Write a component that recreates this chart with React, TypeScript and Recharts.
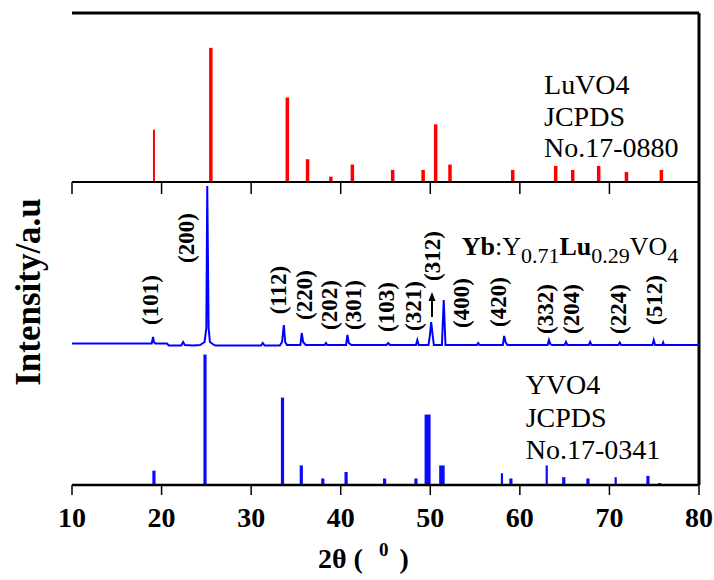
import React from 'react';
import { ComposedChart, XAxis, YAxis, Line, Scatter, ReferenceLine } from 'recharts';

const FONT = "'Liberation Serif', 'Times New Roman', serif";

// x axis ticks (2θ, degrees)
const xTicks = [10, 20, 30, 40, 50, 60, 70, 80];

// LuVO4 JCPDS No.17-0880 stick pattern (relative intensity)
const luPos = [19.15, 25.5, 34.04, 36.3, 38.9, 41.3, 45.8, 49.2, 50.6, 52.2, 59.2, 64.0, 65.9, 68.8, 71.9, 75.8];
const luInt = [39, 100, 63, 17, 4, 13, 9, 9, 43, 13, 9, 12, 9, 12, 7.5, 9];

// YVO4 JCPDS No.17-0341 stick pattern (relative intensity)
const yvPos = [19.15, 24.85, 33.5, 35.6, 38.0, 40.6, 44.9, 48.4, 49.7, 51.3, 58.0, 59.0, 63.0, 64.9, 67.6, 70.7, 74.3, 75.6];
const yvInt = [11, 100, 67, 15, 5, 10, 5, 5, 54, 15, 9, 5, 15, 6, 5, 6, 7, 1.5];

// Measured Yb:Y0.71Lu0.29VO4 pattern (a.u.)
const traceX = [10, 18.9, 19.05, 19.15, 19.3, 20.6, 20.8, 22.2, 22.4, 22.6, 23.5, 24.3, 24.8, 25.0, 25.1, 25.25, 25.4, 25.7, 26.0,
  31.1, 31.3, 31.5, 33.2, 33.45, 33.65, 33.8, 34.0, 35.5, 35.65, 35.8, 36.1, 38.2, 38.35, 38.5, 40.6, 40.75, 40.9, 41.2,
  45.1, 45.3, 45.5, 48.4, 48.55, 48.7, 49.8, 49.95, 50.1, 50.25, 50.4, 51.3, 51.5, 51.7, 55.2, 55.35, 55.5,
  58.1, 58.25, 58.4, 58.6, 63.1, 63.25, 63.4, 63.6, 65.0, 65.15, 65.3, 67.7, 67.85, 68.0, 71.0, 71.15, 71.3,
  74.8, 74.95, 75.1, 75.9, 76.0, 76.1, 80];
const traceY = [4.5, 4.5, 11, 6, 4.5, 4.5, 2.5, 2.5, 6, 3, 2.5, 3, 6, 20, 162, 20, 6, 4, 2.5,
  2.5, 5, 2.5, 2.5, 6, 23, 6, 3, 3, 15, 6, 3, 3, 5, 3, 3, 13, 5, 3,
  3, 5, 3, 3, 8, 3, 3, 12, 26, 14, 3, 3, 48, 3, 3, 5, 3,
  3, 12, 6, 3, 3, 8, 4, 3, 3, 6, 3, 3, 6, 3, 3, 5.5, 3,
  3, 8, 3, 3, 5.5, 3, 3];

// Miller index annotations
const millerText = ['(101)', '(200)', '(112)', '(220)', '(202)', '(301)', '(103)', '(321)', '(312)', '(400)', '(420)', '(332)', '(204)', '(224)', '(512)'];
const millerX = [18.78, 22.73, 33.11, 35.94, 38.73, 41.41, 45.06, 48.11, 50.23, 53.51, 57.67, 62.89, 65.71, 70.99, 74.98];
const millerY = [48, 110, 58, 53, 43, 43, 41, 42, 92, 45, 46, 39, 39, 39, 48];

const traceData = traceX.map((x, i) => ({ x, y: traceY[i] }));
const millerData = millerText.map((label, i) => ({ x: millerX[i], y: millerY[i], label }));

const luWidth = (i: number) => (i === 0 ? 2 : 3.5);
const yvWidth = (p: number) => (p === 49.7 ? 6 : p === 51.3 ? 5.5 : p === 58.0 || p === 63.0 || p === 70.7 ? 2.2 : 3.2);

const abs = (top: number): React.CSSProperties => ({ position: 'absolute', left: 0, top });
const BORDER = { stroke: '#000', strokeWidth: 3 };

const MillerShape = (p: any) => (
  <text
    x={p.cx}
    y={p.cy}
    transform={`rotate(-90 ${p.cx} ${p.cy})`}
    textAnchor="middle"
    dominantBaseline="central"
    fontFamily={FONT}
    fontSize={23}
    fontWeight="bold"
    fill="#000"
  >
    {p.payload.label}
  </text>
);

const ArrowShape = (p: any) => (
  <g>
    <line x1={p.cx} y1={p.cy} x2={p.cx} y2={p.cy - 18} stroke="#000" strokeWidth={2} />
    <path d={`M${p.cx - 3.5},${p.cy - 16} L${p.cx + 3.5},${p.cy - 16} L${p.cx},${p.cy - 25} Z`} fill="#000" />
  </g>
);

const SampleShape = (p: any) => (
  <text x={p.cx} y={p.cy} fontFamily={FONT} fontSize={26} fill="#000">
    <tspan fontWeight="bold">Yb</tspan>
    <tspan>:Y</tspan>
    <tspan fontSize={22} dy={8}>0.71</tspan>
    <tspan fontWeight="bold" dy={-8}>Lu</tspan>
    <tspan fontSize={22} dy={8}>0.29</tspan>
    <tspan dy={-8}>VO</tspan>
    <tspan fontSize={22} dy={8}>4</tspan>
  </text>
);

const makeBlock = (lines: string[], gap: number) => (p: any) => (
  <text x={p.cx} y={p.cy} fontFamily={FONT} fontSize={28} fill="#000">
    {lines.map((l, i) => (
      <tspan key={i} x={p.cx} dy={i === 0 ? 0 : gap}>{l}</tspan>
    ))}
  </text>
);

const LuBlock = makeBlock(['LuVO4', 'JCPDS', 'No.17-0880'], 31.5);
const YvBlock = makeBlock(['YVO4', 'JCPDS', 'No.17-0341'], 32.5);

const AxisTitles = (props: any) => {
  const vb = props.viewBox;
  const x = vb.x + 246;
  const y = vb.y + 83;
  const ycx = vb.x - 44;
  const ycy = 292;
  return (
    <g>
      <text x={x} y={y} fontFamily={FONT} fontSize={28} fontWeight="bold" fill="#000">
        <tspan>2θ (</tspan>
        <tspan fontSize={19} dx={16} dy={-12}>0</tspan>
        <tspan dx={11} dy={12}>)</tspan>
      </text>
      <text
        x={ycx}
        y={ycy}
        transform={`rotate(-90 ${ycx} ${ycy})`}
        textAnchor="middle"
        dominantBaseline="central"
        fontFamily={FONT}
        fontSize={35}
        fontWeight="bold"
        fill="#000"
      >
        Intensity/a.u
      </text>
    </g>
  );
};

export default function App() {
  return (
    <div style={{ position: 'absolute', left: 0, top: 0, width: 714, height: 580, background: '#fff' }}>
      {/* Top panel: LuVO4 reference */}
      <div style={abs(0)}>
        <ComposedChart width={714} height={200} margin={{ top: 13, right: 15, left: 72, bottom: 0 }}>
          <XAxis
            type="number"
            dataKey="x"
            domain={[10, 80]}
            ticks={xTicks}
            allowDataOverflow
            height={18}
            tickSize={12}
            tickFormatter={() => ''}
            axisLine={{ stroke: '#000', strokeWidth: 2 }}
            tickLine={{ stroke: '#000', strokeWidth: 1.5 }}
          />
          <YAxis type="number" dataKey="y" domain={[0, 126]} allowDataOverflow width={0} tick={false} axisLine={BORDER} />
          {luPos.map((p, i) => (
            <ReferenceLine
              key={i}
              segment={[{ x: p, y: 0 }, { x: p, y: luInt[i] }]}
              stroke="#ff0000"
              strokeWidth={luWidth(i)}
              ifOverflow="visible"
            />
          ))}
          <ReferenceLine x={80} stroke="#000" strokeWidth={3} ifOverflow="visible" />
          <ReferenceLine y={126} stroke="#000" strokeWidth={3} ifOverflow="visible" />
          <Scatter data={[{ x: 62.7, y: 65.6 }]} shape={LuBlock} isAnimationActive={false} />
        </ComposedChart>
      </div>

      {/* Middle panel: measured pattern */}
      <div style={abs(182)}>
        <ComposedChart width={714} height={166} margin={{ top: 0, right: 15, left: 72, bottom: 0 }}>
          <XAxis type="number" dataKey="x" domain={[10, 80]} allowDataOverflow hide />
          <YAxis type="number" dataKey="y" domain={[0, 166]} allowDataOverflow width={0} tick={false} axisLine={BORDER} />
          <ReferenceLine x={80} stroke="#000" strokeWidth={3} ifOverflow="visible" />
          <Line
            data={traceData}
            dataKey="y"
            type="linear"
            stroke="#0000ff"
            strokeWidth={2}
            dot={false}
            activeDot={false}
            isAnimationActive={false}
          />
          <Scatter data={millerData} shape={MillerShape} isAnimationActive={false} />
          <Scatter data={[{ x: 50.19, y: 31 }]} shape={ArrowShape} isAnimationActive={false} />
          <Scatter data={[{ x: 53.51, y: 93 }]} shape={SampleShape} isAnimationActive={false} />
        </ComposedChart>
      </div>

      {/* Bottom panel: YVO4 reference + bottom axis and titles */}
      <div style={abs(0)}>
        <ComposedChart width={714} height={580} margin={{ top: 348, right: 15, left: 72, bottom: 0 }}>
          <XAxis
            type="number"
            dataKey="x"
            domain={[10, 80]}
            ticks={xTicks}
            allowDataOverflow
            height={95}
            tickSize={10}
            tickMargin={12}
            tick={{ fontSize: 28, fontWeight: 'bold', fill: '#000', fontFamily: FONT }}
            axisLine={{ stroke: '#000', strokeWidth: 2.5 }}
            tickLine={{ stroke: '#000', strokeWidth: 1.5 }}
            label={<AxisTitles />}
          />
          <YAxis
            type="number"
            dataKey="y"
            domain={[0, 105]}
            allowDataOverflow
            width={0}
            tick={false}
            axisLine={BORDER}
          />
          {yvPos.map((p, i) => (
            <ReferenceLine
              key={i}
              segment={[{ x: p, y: 0 }, { x: p, y: yvInt[i] }]}
              stroke="#0a0aff"
              strokeWidth={yvWidth(p)}
              ifOverflow="visible"
            />
          ))}
          <ReferenceLine x={80} stroke="#000" strokeWidth={3} ifOverflow="visible" />
          <Scatter data={[{ x: 60.65, y: 69.7 }]} shape={YvBlock} isAnimationActive={false} />
        </ComposedChart>
      </div>
    </div>
  );
}
